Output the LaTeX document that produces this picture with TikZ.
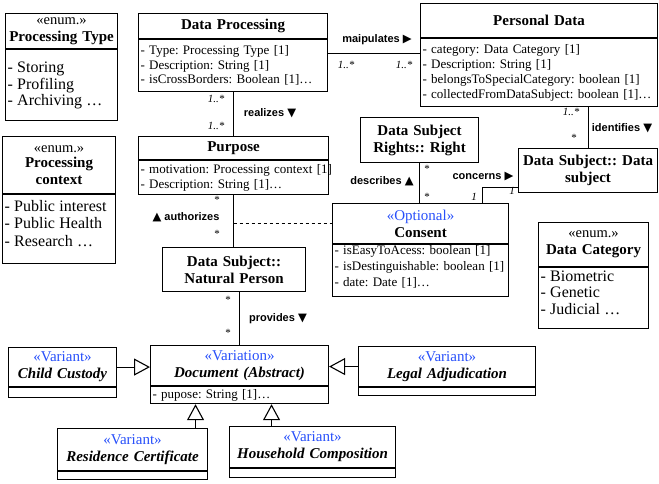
\documentclass[tikz,border=0pt]{standalone}
\usepackage{fontspec}
\setmainfont{Liberation Serif}
\newfontfamily\labfont{Liberation Sans}
\newfontfamily\symfont{DejaVu Sans}
\usetikzlibrary{arrows.meta,calc}
\definecolor{stereo}{RGB}{40,80,250}
\newcommand{\umlclass}[8]{%
  \pgfmathsetmacro\umltw{#4-4}%
  \node[hd, minimum width=#4pt, text width=\umltw pt, minimum height=#5pt] (#1) at (#2,#3) {#7};
  \node[bd, minimum width=#4pt, text width=\umltw pt, minimum height=#6pt] (#1B) at (#1.south west) {#8};
}
\newcommand{\umlsingle}[6]{%
  \pgfmathsetmacro\umltw{#4-4}%
  \node[hd, minimum width=#4pt, text width=\umltw pt, minimum height=#5pt] (#1) at (#2,#3) {#6};
}
\newcommand{\enumst}{\fontsize{14.5}{15}\selectfont\mdseries «enum.»}
\newcommand{\bluest}[1]{{\mdseries\upshape\color{stereo}#1}}
\newcommand{\tri}[1]{{\symfont\fontsize{11.5}{12}\selectfont #1}}
\begin{document}
\frenchspacing
\begin{tikzpicture}[x=1pt,y=-1pt, line width=1.1pt,
  hd/.style={draw, anchor=north west, inner xsep=2pt, inner ysep=0pt, align=center,
    font=\fontsize{15}{17}\selectfont\bfseries},
  bd/.style={draw, anchor=north west, inner xsep=2pt, inner ysep=0pt, align=left,
    font=\fontsize{13}{14.5}\selectfont},
  lab/.style={inner sep=0pt, font=\labfont\bfseries\fontsize{11}{12}\selectfont},
  mult/.style={inner sep=0pt, font=\itshape\fontsize{11}{12}\selectfont},
  star/.style={inner sep=0pt, font=\fontsize{11}{12}\selectfont},
  conn/.style={line width=1.1pt},
  gen/.style={line width=1.1pt, -{Triangle[open,length=16pt,width=17pt,line width=1.1pt]}}]
\useasboundingbox (0,0) rectangle (659,483);

% enumerations
\umlclass{pt}{5}{13}{112}{35}{71}{\fontsize{15}{14}\selectfont{\enumst}\\Processing Type}{\fontsize{16}{17}\selectfont - Storing\\- Profiling\\- Archiving …}
\umlclass{pc}{2}{136}{113}{57}{69}{\fontsize{15}{15.5}\selectfont{\enumst}\\Processing\\context}{\fontsize{16}{17.5}\selectfont - Public interest\\- Public Health\\- Research …\\[-3pt]\mbox{}}
\umlclass{dc}{538}{222}{110}{44}{61}{\fontsize{15}{14}\selectfont{\enumst}\\Data Category}{\fontsize{16}{16.5}\selectfont - Biometric\\- Genetic\\- Judicial …\\[-3pt]\mbox{}}

% classes
\umlclass{dp}{138}{13}{189}{25}{52}{Data Processing}{- Type: Processing Type [1]\\- Description: String [1]\\- isCrossBorders: Boolean [1]…}
\umlclass{pd}{420}{3}{237}{34}{68}{Personal Data}{\fontsize{13}{15}\selectfont - category: Data Category [1]\\- Description: String [1]\\- belongsToSpecialCategory: boolean [1]\\- collectedFromDataSubject: boolean [1]…}
\umlclass{pur}{138}{136}{190}{23}{34}{Purpose}{\fontsize{13}{14}\selectfont \mbox{- motivation: Processing context [1]}\\- Description: String [1]…}
\umlclass{con}{332}{203}{176}{40}{52}{\fontsize{15}{20}\selectfont\bluest{«Optional»}\\Consent}{\fontsize{13}{16}\selectfont - isEasyToAcess: boolean [1]\\- isDestinguishable: boolean [1]\\- date: Date [1]…\\[-6pt]\mbox{}}
\umlsingle{rights}{360}{117}{118}{45}{\fontsize{15}{18}\selectfont Data Subject\\Rights:: Right}
\umlsingle{ds}{518}{148}{139}{44}{\fontsize{15}{18}\selectfont Data Subject:: Data\\subject}
\umlsingle{np}{162}{247}{143}{44}{\fontsize{15}{18}\selectfont Data Subject::\\Natural Person}

% document and variants
\umlclass{doc}{150}{345}{178}{40}{17}{\fontsize{15}{18}\selectfont\bluest{«Variation»}\\\itshape Document (Abstract)}{- pupose: String [1]…}
\umlclass{cc}{8}{347}{108}{39}{10}{\fontsize{15}{18}\selectfont\bluest{«Variant»}\\\itshape Child Custody}{}
\umlclass{la}{358}{346}{177}{40}{8}{\fontsize{15}{18}\selectfont\bluest{«Variant»}\\\itshape Legal Adjudication}{}
\umlclass{rc}{57}{428}{150}{42}{8}{\fontsize{15}{18}\selectfont\bluest{«Variant»}\\\itshape Residence Certificate}{}
\umlclass{hc}{229}{426}{166}{41}{9}{\fontsize{15}{18}\selectfont\bluest{«Variant»}\\\itshape Household Composition}{}

% associations
\draw[conn] ([yshift=-14pt]dpB.north east) coordinate (m1) -- (m1 -| pdB.west);
\node[lab] (lman) at (377,40) {maipulates \tri{▶}};
\node[mult] (mman1) at (346,65) {1..*};
\node[mult] (mman2) at (404,65) {1..*};

\draw[conn] (dpB.south) -- (dpB.south |- pur.north);
\node[lab] (lrea) at (270,113) {realizes \tri{▼}};
\node[mult] (mrea1) at (216,99) {1..*};
\node[mult] (mrea2) at (216,126) {1..*};

\draw[conn] (purB.south) -- (purB.south |- np.north);
\node[lab] (laut) at (186,217) {\tri{▲} authorizes};
\node[star] (maut1) at (217,200) {*};
\node[star] (maut2) at (217,234) {*};
\draw[conn, dashed] (con.west -| purB.south) -- (con.west);

\draw[conn] (np.south -| doc.north) -- (doc.north);
\node[lab] (lpro) at (278,319) {provides \tri{▼}};
\node[star] (mpro1) at (228,300) {*};
\node[star] (mpro2) at (228,333) {*};

\draw[conn] (rights.south) -- (rights.south |- con.north);
\node[lab] (ldes) at (382,181) {describes \tri{▲}};
\node[star] (mdes1) at (427,169) {*};
\node[star] (mdes2) at (427,197) {*};

\draw[conn] ([xshift=-27pt]con.north east) |- ([yshift=6pt]ds.south west);
\node[lab] (lcon) at (483,177) {concerns \tri{▶}};
\node[mult] (mcon1) at (474,197) {1};
\node[mult] (mcon2) at (512,191) {1};

\draw[conn] (ds.north |- pdB.south) -- (ds.north);
\node[lab] (lide) at (622,128) {identifies \tri{▼}};
\node[mult] (mide1) at (571,112) {1..*};
\node[star] (mide2) at (574,138) {*};

% generalizations
\draw[gen] (cc.east) -- (cc.east -| doc.west);
\draw[gen] (la.west) -- (la.west -| doc.east);
\draw[gen] ([xshift=63pt]rc.north) coordinate (g3) -- (g3 |- docB.south);
\draw[gen] ([xshift=-41pt]hc.north) coordinate (g4) -- (g4 |- docB.south);
\end{tikzpicture}
\end{document}
